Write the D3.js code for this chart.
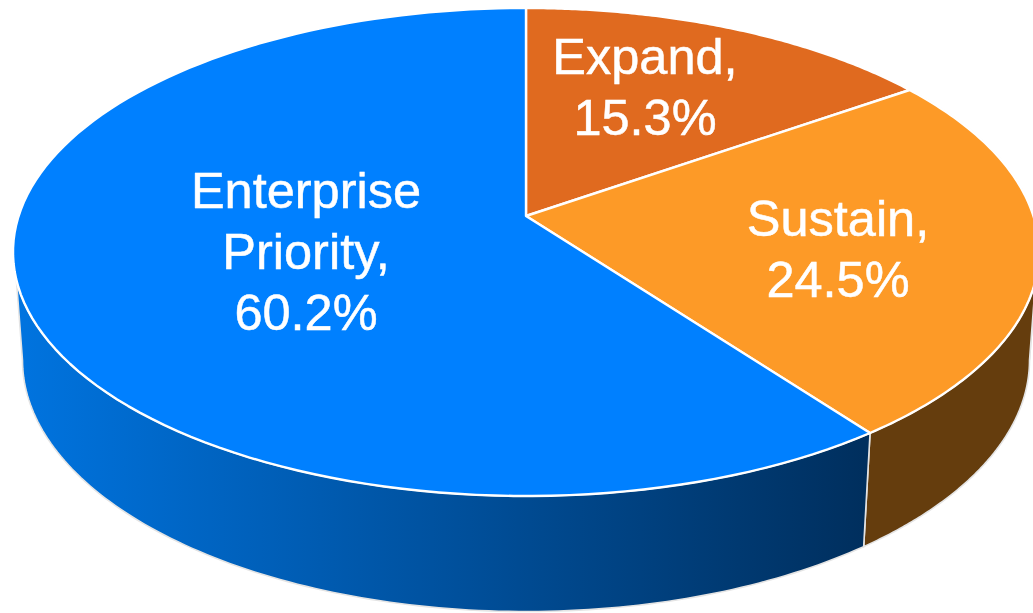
<!DOCTYPE html>
<html>
<head>
<meta charset="utf-8">
<script src="https://cdn.jsdelivr.net/npm/d3@7/dist/d3.min.js"></script>
<style>
html,body{margin:0;padding:0;background:#fff;overflow:hidden}
svg{display:block}
</style>
</head>
<body>
<script>
const categories = ["Expand", "Sustain", "Enterprise Priority"];
const values = [15.3, 24.5, 60.2];
const topColors = ["#e06a1f", "#fd9a27", "#0080ff"];
const sideColors = ["#653d0d", "#653d0d", "url(#blueSide)"];
const labelLines = [["Expand,", "15.3%"], ["Sustain,", "24.5%"], ["Enterprise", "Priority,", "60.2%"]];
const labelCentres = [645, 838, 306];
const labelBaselines = [[74, 135], [236, 297], [208, 269, 330]];

const W = 1033, H = 613;
const svg = d3.select("body").append("svg").attr("width", W).attr("height", H);

const grad = svg.append("defs").append("linearGradient")
  .attr("id", "blueSide").attr("gradientUnits", "userSpaceOnUse")
  .attr("x1", 13).attr("x2", 863).attr("y1", 0).attr("y2", 0);
grad.append("stop").attr("offset", 0).attr("stop-color", "#0074e0");
grad.append("stop").attr("offset", 1).attr("stop-color", "#002f5e");

// Perspective mapping of a disc on to the screen: near points get larger.
const disc = (cx, cy, rx, ry, p) => (angle, r = 1) => {
  const u = r * Math.sin(angle), v = -r * Math.cos(angle), w = 1 - p * v;
  return [cx + rx * u / w, cy + ry * v / w];
};
const topFace = disc(526, 216, 507.4, 238.7, 0.1475);
const lowFace = disc(526, 323, 498, 246, 0.1475);

const arcs = d3.pie().sort(null).value(d => d)(values);

const sweep = (project, a0, a1) =>
  d3.range(0, 121).map(i => project(a0 + (a1 - a0) * i / 120));
const line = d3.line();
const rad = d3.scaleLinear().domain([0, 360]).range([0, 2 * Math.PI]);

// Silhouette angles of each rim; the wall runs between them on the near side.
const topRim = [rad(105), rad(255)];
const lowRim = [rad(98.5), rad(261.5)];

const walls = svg.append("g");
arcs.forEach((d, i) => {
  const upper = sweep(topFace, Math.max(d.startAngle, topRim[0]), Math.min(d.endAngle, topRim[1]));
  const lower = sweep(lowFace, Math.max(d.startAngle, lowRim[0]), Math.min(d.endAngle, lowRim[1]));
  walls.append("path")
    .attr("d", line(upper.concat(lower.reverse())) + "Z")
    .attr("fill", sideColors[i])
    .attr("stroke", "#e4e4e4")
    .attr("stroke-width", 1.6);
});

const faces = svg.append("g");
arcs.forEach((d, i) => {
  const pts = [topFace(0, 0)].concat(sweep(topFace, d.startAngle, d.endAngle));
  faces.append("path")
    .attr("d", line(pts) + "Z")
    .attr("fill", topColors[i])
    .attr("stroke", "#fff")
    .attr("stroke-width", 2.4)
    .attr("stroke-linejoin", "round");
});

const labels = svg.append("g")
  .attr("font-family", "'Liberation Sans', sans-serif")
  .attr("font-size", 50.5)
  .attr("fill", "#fff")
  .attr("stroke", "#fff")
  .attr("stroke-width", 0.5)
  .attr("text-anchor", "middle");
labelLines.forEach((lines, i) => {
  lines.forEach((t, j) => {
    labels.append("text")
      .attr("x", labelCentres[i])
      .attr("y", labelBaselines[i][j])
      .text(t);
  });
});
</script>
</body>
</html>
